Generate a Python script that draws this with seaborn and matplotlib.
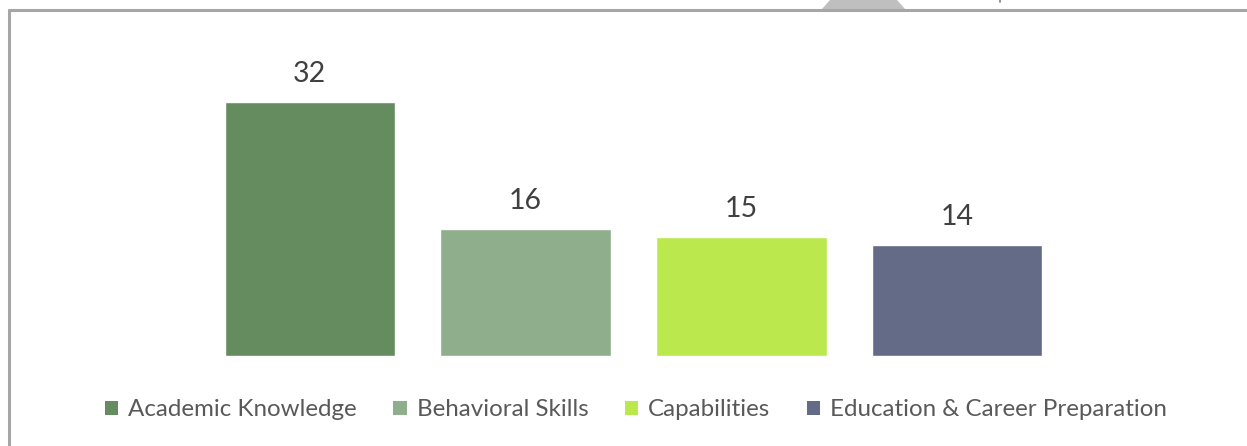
import matplotlib
matplotlib.use("Agg")
import matplotlib.pyplot as plt
import seaborn as sns
import pandas as pd
from matplotlib.patches import Patch, Polygon
from matplotlib.lines import Line2D

categories = ["Academic Knowledge", "Behavioral Skills", "Capabilities",
              "Education & Career Preparation"]
values = [32, 16, 15, 14]
colors = ["#658C5F", "#8FAF8C", "#BBE84C", "#636B86"]

sns.set_theme(style="white")
plt.rcParams["font.family"] = ["Lato", "DejaVu Sans"]

W, H = 1247, 446
fig = plt.figure(figsize=(W / 100, H / 100), dpi=100)
fig.patch.set_facecolor("white")

ax = fig.add_axes([202 / W, 1 - 356 / H, (1065 - 202) / W, (356 - 79) / H])
df = pd.DataFrame({"category": categories, "value": values})
sns.barplot(data=df, x="category", y="value", hue="category",
            palette=colors, width=0.79, saturation=1, legend=False, ax=ax)
ax.set_ylim(0, 34.9)
ax.set_axis_off()

for container in ax.containers:
    ax.bar_label(container, fmt="%d", padding=11, fontsize=20.5, color="#404040")

handles = [Patch(facecolor=c, edgecolor="none") for c in colors]
fig.legend(handles, categories, loc="center", bbox_to_anchor=(636 / W, 1 - 410 / H),
           ncol=4, frameon=False, fontsize=17.4, labelcolor="#595959",
           handlelength=0.55, handleheight=0.55, handletextpad=0.42,
           columnspacing=1.5, borderaxespad=0)

# frame edges and tab shape at the top
gray = "#A6A6A6"
fig.add_artist(Line2D([9 / W, 1], [1 - 10 / H, 1 - 10 / H], color=gray, lw=2.2,
                      transform=fig.transFigure))
fig.add_artist(Line2D([9 / W, 9 / W], [0, 1 - 10 / H], color=gray, lw=2.2,
                      transform=fig.transFigure))
tab = Polygon([(822 / W, 1 - 9 / H), (905 / W, 1 - 9 / H),
               (897 / W, 1.0), (830 / W, 1.0)], closed=True,
              facecolor="#BFBFBF", edgecolor="none", transform=fig.transFigure)
fig.add_artist(tab)
fig.add_artist(Line2D([1000 / W, 1000 / W], [1 - 2 / H, 1], color="#7F7F7F", lw=1.2,
                      transform=fig.transFigure))

fig.savefig("out.png", dpi=100, facecolor="white")
